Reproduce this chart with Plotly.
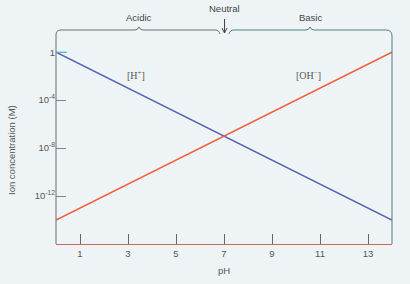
import plotly.graph_objects as go

# Data
ph = [0, 14]
h_conc = [1, 1e-14]
oh_conc = [1e-14, 1]
x_ticks = [1, 3, 5, 7, 9, 11, 13]
y_ticks = [1, 1e-4, 1e-8, 1e-12]
y_ticktext = ["1", "10<sup>-4</sup>", "10<sup>-8</sup>", "10<sup>-12</sup>"]

W, H = 410, 284
L, R, T, B = 56, 18, 33, 40
PW, PH = W - L - R, H - T - B

def px(x):
    return (x - L) / PW

def py(y):
    return (H - B - y) / PH

BG = "#eef4f6"
FONT = "Liberation Sans, Arial, sans-serif"

fig = go.Figure()
fig.add_trace(go.Scatter(x=ph, y=h_conc, mode="lines",
                         line=dict(color="#5563b8", width=1.6), showlegend=False))
fig.add_trace(go.Scatter(x=ph, y=oh_conc, mode="lines",
                         line=dict(color="#ec5a34", width=1.6), showlegend=False))

def path(points):
    s = ""
    for p in points:
        cmd = p[0]
        coords = p[1:]
        s += cmd + " " + " ".join(f"{px(coords[j]):.5f},{py(coords[j+1]):.5f}" for j in range(0, len(coords), 2)) + " "
    return s.strip()

# left axis + Acidic brace
left = [("M", 56, 244), ("L", 56, 35), ("Q", 56, 30, 61, 30), ("L", 135, 30),
        ("Q", 138, 30, 139, 27), ("Q", 140, 30, 143, 30), ("L", 215, 30),
        ("Q", 219, 30, 220, 34)]
right = [("M", 229, 34), ("Q", 230, 30, 234, 30), ("L", 306, 30),
         ("Q", 309, 30, 310, 27), ("Q", 311, 30, 314, 30), ("L", 386, 30),
         ("Q", 392, 30, 392, 36), ("L", 392, 244)]

shapes = [
    dict(type="path", xref="paper", yref="paper", path=path(left),
         line=dict(color="#6b6f72", width=1)),
    dict(type="path", xref="paper", yref="paper", path=path(right),
         line=dict(color="#4f7f82", width=1)),
    dict(type="line", xref="paper", yref="paper", x0=px(224.5), x1=px(224.5),
         y0=py(19), y1=py(33), line=dict(color="#444", width=1)),
    dict(type="path", xref="paper", yref="paper",
         path=f"M {px(222):.5f},{py(28):.5f} L {px(224.5):.5f},{py(33):.5f} L {px(227):.5f},{py(28):.5f}",
         line=dict(color="#444", width=1)),
    dict(type="line", xref="paper", yref="y", x0=px(57), x1=px(67),
         y0=1, y1=1, line=dict(color="#5ec6d0", width=1.2)),
]

def ann(text, x, y, size=9.5, color="#444", family=FONT, angle=0):
    return dict(text=text, x=px(x), y=py(y), xref="paper", yref="paper",
                xanchor="center", yanchor="middle", textangle=angle,
                showarrow=False, font=dict(size=size, color=color, family=family))

annotations = [
    ann("Acidic", 139, 17),
    ann("Basic", 310, 17),
    ann("Neutral", 224, 9),
    ann("[H<sup>+</sup>]", 136, 75, size=10, color="#555", family="Liberation Serif, serif"),
    ann("[OH<sup>\u2212</sup>]", 308, 75, size=10, color="#555", family="Liberation Serif, serif"),
    ann("Ion concentration (M)", 11, 150, color="#555", angle=-90),
    ann("pH", 224, 270, color="#555"),
]

fig.update_layout(
    width=W, height=H,
    margin=dict(l=L, r=R, t=T, b=B),
    paper_bgcolor=BG, plot_bgcolor=BG,
    shapes=shapes, annotations=annotations,
    xaxis=dict(range=[0, 14], tickvals=x_ticks, ticks="inside", ticklen=10,
               tickcolor="#666", tickwidth=1, showgrid=False, zeroline=False,
               showline=True, linecolor="#c86a5a", linewidth=1.2,
               tickfont=dict(size=9.5, color="#555", family=FONT)),
    yaxis=dict(type="log", range=[-16, 1.6], tickvals=y_ticks, ticktext=y_ticktext,
               ticks="inside", ticklen=10, tickcolor="#888", tickwidth=1,
               showgrid=False, zeroline=False, showline=False,
               tickfont=dict(size=9.5, color="#555", family=FONT)),
)

fig.write_html("out.html")
